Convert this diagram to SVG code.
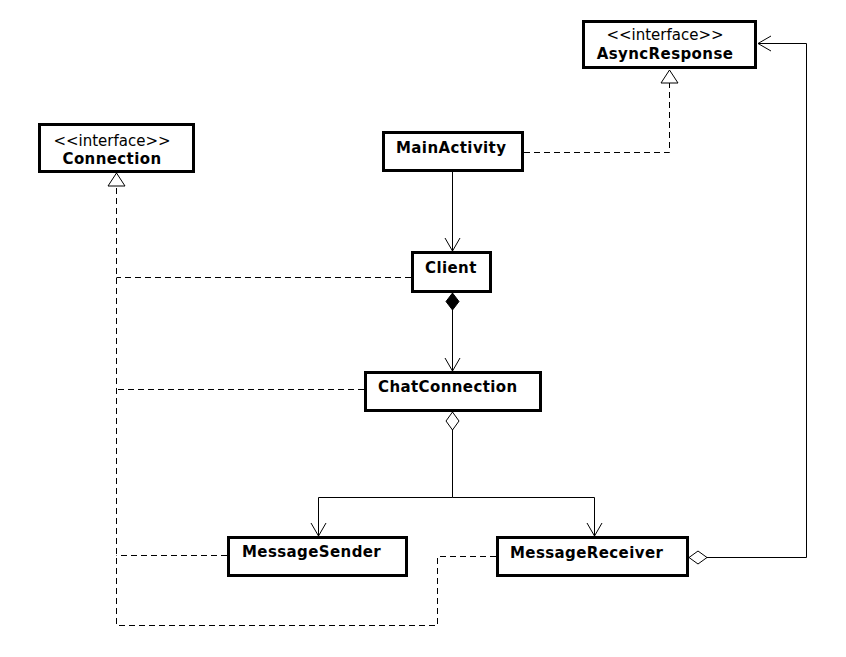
<svg xmlns="http://www.w3.org/2000/svg" width="846" height="657" viewBox="0 0 846 657">
  <style>
    .box { fill: #ffffff; stroke: #000000; stroke-width: 3; }
    .name { font-family: "DejaVu Sans", Verdana, sans-serif; font-size: 15px; font-weight: bold; letter-spacing: 0.4px; fill: #000000; }
    .stereo { font-family: "DejaVu Sans", Verdana, sans-serif; font-size: 15px; fill: #000000; }
    .assoc { fill: none; stroke: #000000; stroke-width: 1; }
    .real { fill: none; stroke: #000000; stroke-width: 1; stroke-dasharray: 6 4; }
  </style>
  <defs>
    <!-- open navigability arrow -->
    <marker id="openArrow" markerUnits="userSpaceOnUse" viewBox="-15 -10 17 20" markerWidth="17" markerHeight="20" refX="0" refY="0" orient="auto" overflow="visible">
      <path d="M-13,-7.5 L0,0 L-13,7.5" fill="none" stroke="#000" stroke-width="1"/>
    </marker>
    <!-- composition diamond -->
    <marker id="filledDiamond" markerUnits="userSpaceOnUse" viewBox="-1 -8 20 16" markerWidth="20" markerHeight="16" refX="0" refY="0" orient="auto" overflow="visible">
      <path d="M0,0 L8.5,-6.5 L17,0 L8.5,6.5 Z" fill="#000" stroke="#000" stroke-width="1"/>
    </marker>
    <!-- aggregation diamond -->
    <marker id="hollowDiamond" markerUnits="userSpaceOnUse" viewBox="-1 -8 20 16" markerWidth="20" markerHeight="16" refX="0" refY="0" orient="auto" overflow="visible">
      <path d="M0,0 L9,-6.5 L18,0 L9,6.5 Z" fill="#fff" stroke="#000" stroke-width="1"/>
    </marker>
    <!-- realization triangle -->
    <marker id="hollowTriangle" markerUnits="userSpaceOnUse" viewBox="-14 -10 16 20" markerWidth="16" markerHeight="20" refX="0" refY="0" orient="auto" overflow="visible">
      <path d="M0,0 L-13,-8.5 L-13,8.5 Z" fill="#fff" stroke="#000" stroke-width="1"/>
    </marker>
  </defs>

  <g id="connectors">
    <!-- MainActivity uses Client -->
    <path class="assoc" d="M452.5,172 V251" marker-end="url(#openArrow)"/>
    <!-- Client owns ChatConnection -->
    <path class="assoc" d="M452.5,293 V371" marker-start="url(#filledDiamond)" marker-end="url(#openArrow)"/>
    <!-- ChatConnection aggregates sender and receiver -->
    <path class="assoc" d="M452.5,412 V497.5" marker-start="url(#hollowDiamond)"/>
    <path class="assoc" d="M452.5,497.5 H318.5 V536" marker-end="url(#openArrow)"/>
    <path class="assoc" d="M452.5,497.5 H594.5 V536" marker-end="url(#openArrow)"/>
    <!-- MessageReceiver holds an AsyncResponse -->
    <path class="assoc" d="M689,557.5 H806.5 V43.5 H758" marker-start="url(#hollowDiamond)" marker-end="url(#openArrow)"/>
    <!-- MainActivity implements AsyncResponse -->
    <path class="real" d="M524,152.5 H669.5 V70" marker-end="url(#hollowTriangle)"/>
    <!-- classes implementing Connection -->
    <path class="real" d="M496,556.5 H437.5 V625.5 H116.5 V173" marker-end="url(#hollowTriangle)"/>
    <path class="real" d="M411,277.5 H116.5"/>
    <path class="real" d="M364,389.5 H116.5"/>
    <path class="real" d="M227,555.5 H116.5"/>
  </g>

  <g id="AsyncResponse">
    <rect class="box" x="583.5" y="21.5" width="172" height="46"/>
    <text class="stereo" x="665" y="40" text-anchor="middle">&lt;&lt;interface&gt;&gt;</text>
    <text class="name" x="665" y="59" text-anchor="middle">AsyncResponse</text>
  </g>

  <g id="Connection">
    <rect class="box" x="39.5" y="124.5" width="154" height="47"/>
    <text class="stereo" x="112" y="146" text-anchor="middle">&lt;&lt;interface&gt;&gt;</text>
    <text class="name" x="112" y="164" text-anchor="middle">Connection</text>
  </g>

  <g id="MainActivity">
    <rect class="box" x="383.5" y="132.5" width="139" height="38"/>
    <text class="name" x="396" y="153">MainActivity</text>
  </g>

  <g id="Client">
    <rect class="box" x="412.5" y="252.5" width="78" height="39"/>
    <text class="name" x="425" y="273">Client</text>
  </g>

  <g id="ChatConnection">
    <rect class="box" x="365.5" y="372.5" width="175" height="38"/>
    <text class="name" x="378" y="392">ChatConnection</text>
  </g>

  <g id="MessageSender">
    <rect class="box" x="228.5" y="537.5" width="178" height="38"/>
    <text class="name" x="242" y="557">MessageSender</text>
  </g>

  <g id="MessageReceiver">
    <rect class="box" x="497.5" y="537.5" width="190" height="38"/>
    <text class="name" x="510" y="558">MessageReceiver</text>
  </g>
</svg>
